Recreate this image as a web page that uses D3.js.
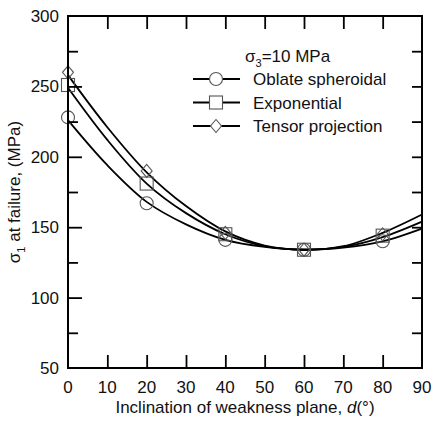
<!DOCTYPE html>
<html>
<head>
<meta charset="utf-8">
<script src="https://cdn.jsdelivr.net/npm/d3@7"></script>
<style>
body{margin:0;background:#fff;}
text{font-family:Arial,"Liberation Sans",sans-serif;fill:#111;}
</style>
</head>
<body>
<svg id="chart" width="433" height="421"></svg>
<script>
// measured points
var angles = [0, 20, 40, 60, 80];
var oblateVals = [228, 167, 141, 134, 140];
var expVals = [251, 181, 145, 134, 144];
var tensorVals = [260, 190, 146, 134, 145];

var curveAngles = [0, 10, 20, 30, 40, 50, 60, 70, 80, 90];
var oblateCurve = [226, 194, 168, 152, 141, 136, 134, 135.5, 140, 149];
var expCurve = [249, 212, 181, 160, 145, 136.5, 134, 136, 143, 154];
var tensorCurve = [258, 221, 189, 165, 147, 137, 134, 136.5, 146, 159];

var xTicks = [0, 10, 20, 30, 40, 50, 60, 70, 80, 90];
var yTicks = [50, 100, 150, 200, 250, 300];

var marge = {top:16, bottom:53, left:68, right:11};
var svg = d3.select("#chart");
var width = 433 - marge.left - marge.right;
var height = 421 - marge.top - marge.bottom;
var g = svg.append("g").attr("transform","translate("+marge.left+","+marge.top+")");

var x = d3.scaleLinear().domain([0,90]).range([0,width]);
var y = d3.scaleLinear().domain([50,300]).range([height,0]);

var series = [
  {name:"Oblate spheroidal", pts:oblateVals, fit:oblateCurve, sym:"circle"},
  {name:"Exponential", pts:expVals, fit:expCurve, sym:"square"},
  {name:"Tensor projection", pts:tensorVals, fit:tensorCurve, sym:"diamond"}
];

function drawSym(sel, sym, cx, cy){
  var r = 6.5;
  if(sym=="circle"){
    sel.append("circle").attr("cx",cx).attr("cy",cy).attr("r",r);
  }else if(sym=="square"){
    sel.append("rect").attr("x",cx-r).attr("y",cy-r).attr("width",2*r).attr("height",2*r);
  }else{
    var d = 6.5;
    sel.append("path").attr("d","M"+cx+","+(cy-d)+"L"+(cx+d-1)+","+cy+"L"+cx+","+(cy+d)+"L"+(cx-d+1)+","+cy+"Z");
  }
}

var line = d3.line().x(function(d){return x(d[0]);}).y(function(d){return y(d[1]);})
  .curve(d3.curveCatmullRom.alpha(0.5));

// curves
series.forEach(function(s){
  g.append("path")
   .datum(curveAngles.map(function(a,i){return [a, s.fit[i]];}))
   .attr("d",line)
   .attr("fill","none").attr("stroke","#000").attr("stroke-width",1.8);
});

// markers
series.forEach(function(s){
  var mg = g.append("g").attr("fill","none").attr("stroke","#555").attr("stroke-width",1.1);
  angles.forEach(function(a,i){ drawSym(mg, s.sym, x(a), y(s.pts[i])); });
});

// axes with inward ticks
var xMajor = d3.range(10,90,10);
g.append("g").attr("transform","translate(0,"+height+")")
  .call(d3.axisBottom(x).tickValues(xMajor).tickSize(-13).tickFormat(""))
  .call(function(a){a.select(".domain").remove();});
g.append("g")
  .call(d3.axisTop(x).tickValues(xMajor).tickSize(-13).tickFormat(""))
  .call(function(a){a.select(".domain").remove();});
g.append("g")
  .call(d3.axisLeft(y).tickValues([100,150,200,250]).tickSize(-14).tickFormat(""))
  .call(function(a){a.select(".domain").remove();});
g.append("g")
  .call(d3.axisLeft(y).tickValues([75,125,175,225,275]).tickSize(-10).tickFormat(""))
  .call(function(a){a.select(".domain").remove();});
g.append("g").attr("transform","translate("+width+",0)")
  .call(d3.axisRight(y).tickValues(d3.range(75,300,25)).tickSize(-10).tickFormat(""))
  .call(function(a){a.select(".domain").remove();});
g.selectAll(".tick line").attr("stroke","#000").attr("stroke-width",1.8);

// frame
g.append("rect").attr("width",width).attr("height",height)
  .attr("fill","none").attr("stroke","#000").attr("stroke-width",2);

// tick labels
g.selectAll(".xlab").data(xTicks).enter().append("text")
  .attr("x",function(d){return x(d);}).attr("y",height+25)
  .attr("text-anchor","middle").attr("font-size",17).text(function(d){return d;});
g.selectAll(".ylab").data(yTicks).enter().append("text")
  .attr("x",-9).attr("y",function(d){return y(d)+6;})
  .attr("text-anchor","end").attr("font-size",17).text(function(d){return d;});

// axis titles
var xt = svg.append("text").attr("x",marge.left+width/2).attr("y",413)
  .attr("text-anchor","middle").attr("font-size",17);
xt.append("tspan").text("Inclination of weakness plane, ");
xt.append("tspan").attr("font-style","italic").text("d");
xt.append("tspan").text("(°)");

var yt = svg.append("text").attr("transform","translate(20,"+(marge.top+height/2)+") rotate(-90)")
  .attr("text-anchor","middle").attr("font-size",17);
yt.append("tspan").text("σ");
yt.append("tspan").attr("font-size",11).attr("dy",5).text("1");
yt.append("tspan").attr("dy",-5).text(" at failure, (MPa)");

// legend
var lg = svg.append("g");
var lt = lg.append("text").attr("x",245).attr("y",62).attr("font-size",17);
lt.append("tspan").text("σ");
lt.append("tspan").attr("font-size",11).attr("dy",5).text("3");
lt.append("tspan").attr("dy",-5).text("=10 MPa");
series.forEach(function(s,i){
  var cy = 79 + i*23.5;
  lg.append("line").attr("x1",193).attr("x2",240).attr("y1",cy).attr("y2",cy)
    .attr("stroke","#000").attr("stroke-width",1.8);
  var mg = lg.append("g").attr("fill","#fff").attr("stroke","#555").attr("stroke-width",1.1);
  drawSym(mg, s.sym, 216, cy);
  lg.append("text").attr("x",253).attr("y",cy+6).attr("font-size",17).text(s.name);
});
</script>
</body>
</html>
